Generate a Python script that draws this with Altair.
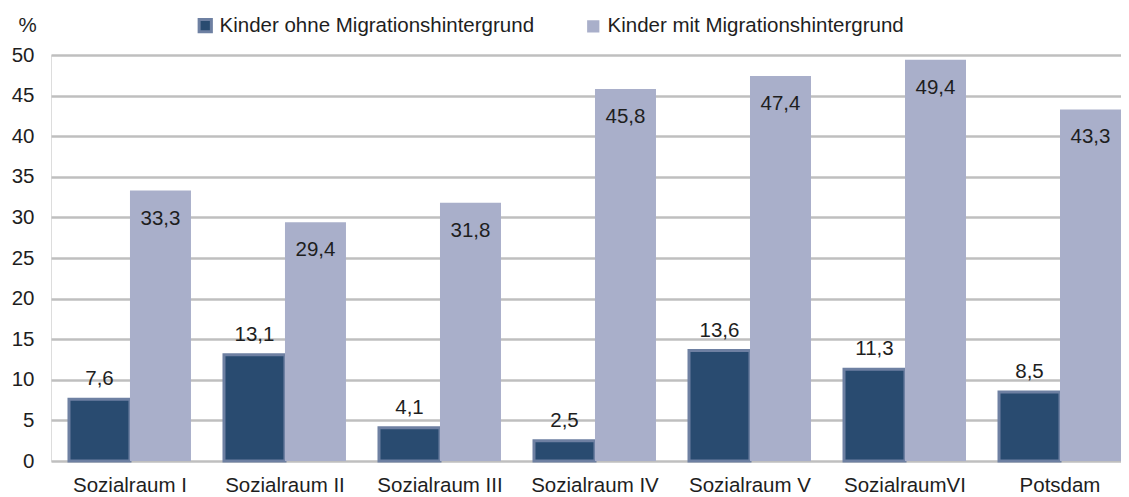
import altair as alt
import pandas as pd

categories = ["Sozialraum I", "Sozialraum II", "Sozialraum III", "Sozialraum IV",
              "Sozialraum V", "SozialraumVI", "Potsdam"]
series = ["Kinder ohne Migrationshintergrund", "Kinder mit Migrationshintergrund"]
ohne = [7.6, 13.1, 4.1, 2.5, 13.6, 11.3, 8.5]
mit = [33.3, 29.4, 31.8, 45.8, 47.4, 49.4, 43.3]
y_ticks = [0, 5, 10, 15, 20, 25, 30, 35, 40, 45, 50]

rows = []
for c, a, b in zip(categories, ohne, mit):
    rows.append({"cat": c, "series": series[0], "value": a})
    rows.append({"cat": c, "series": series[1], "value": b})
df = pd.DataFrame(rows)

FONT = "Liberation Sans"
FS = 20.5
TXT = "#1e1e1e"
DARK = "#294B70"
DARK_STROKE = "#6E80A2"
LIGHT = "#A9AFCA"

x = alt.X("cat:N", sort=categories, title=None,
          scale=alt.Scale(paddingInner=0.213, paddingOuter=0.058, align=1),
          axis=alt.Axis(labelAngle=0, ticks=False, domain=False, grid=False,
                        labelPadding=14, labelFontSize=FS, labelFont=FONT,
                        labelColor=TXT, labelLimit=0))
xo = alt.XOffset("series:N", sort=series, scale=alt.Scale(domain=series))

y = alt.Y("value:Q",
          scale=alt.Scale(domain=[0, 50], nice=False),
          axis=alt.Axis(values=y_ticks, ticks=False, domain=False,
                        grid=True, gridColor="#BFBFBF", gridWidth=2.5,
                        labelPadding=17, labelFontSize=FS, labelFont=FONT,
                        labelColor=TXT, title="%", titleAngle=0,
                        titleX=-24, titleY=-30, titleAlign="center",
                        titleBaseline="middle", titleFontSize=FS,
                        titleFontWeight="normal", titleFont=FONT,
                        titleColor=TXT))

bars = alt.Chart(df).mark_bar().encode(
    x=x, xOffset=xo, y=y,
    fill=alt.Fill("series:N", sort=series,
                  scale=alt.Scale(domain=series, range=[DARK, LIGHT]),
                  legend=alt.Legend(orient="none", legendX=144, legendY=-40,
                                    direction="horizontal", title=None,
                                    symbolType="square", symbolSize=150,
                                    symbolStrokeWidth=2.5,
                                    labelFontSize=FS, labelFont=FONT,
                                    labelColor=TXT, labelLimit=0,
                                    columnPadding=48, labelOffset=4)),
    stroke=alt.Stroke("series:N", sort=series,
                      scale=alt.Scale(domain=series, range=[DARK_STROKE, LIGHT])),
    strokeWidth=alt.StrokeWidth("series:N",
                                scale=alt.Scale(domain=series, range=[3, 0]),
                                legend=None),
)

label_base = alt.Chart(df).transform_calculate(
    lab="replace(format(datum.value, '.1f'), '.', ',')"
)

labels_dark = label_base.transform_filter(
    alt.datum.series == series[0]
).mark_text(baseline="middle", dy=-20, fontSize=FS, font=FONT, color=TXT).encode(
    x=x, xOffset=xo, y=y, text="lab:N"
)

labels_light = label_base.transform_filter(
    alt.datum.series == series[1]
).mark_text(baseline="middle", dy=28, fontSize=FS, font=FONT, color=TXT).encode(
    x=x, xOffset=xo, y=y, text="lab:N"
)

chart = alt.layer(bars, labels_dark, labels_light).properties(
    width=1070, height=406,
    autosize=alt.AutoSizeParams(type="none"),
    padding={"left": 43, "top": 47, "right": 0, "bottom": 34},
).configure_view(stroke=None).configure(background="white")

chart.save("out.html", embed_options={"renderer": "svg", "actions": False})
